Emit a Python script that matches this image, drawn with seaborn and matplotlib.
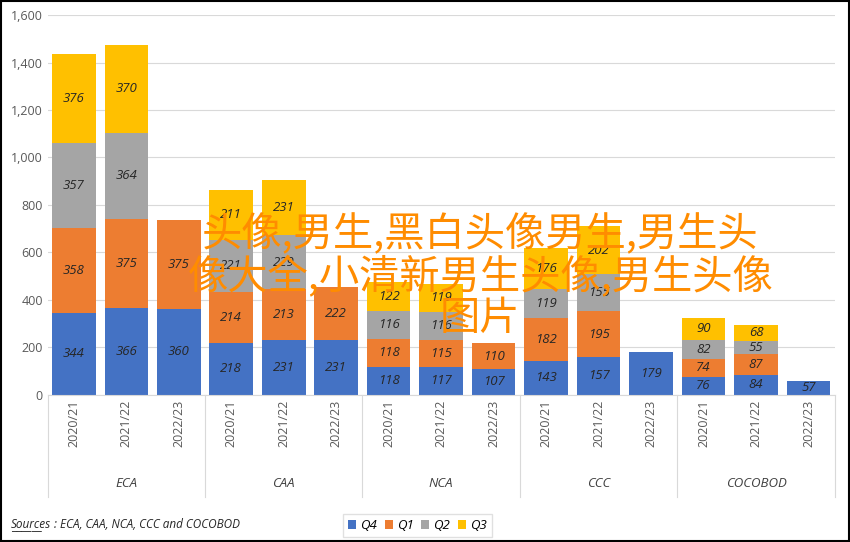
import matplotlib
matplotlib.use("Agg")
import matplotlib.pyplot as plt
import numpy as np
import pandas as pd
import seaborn as sns

groups = ["ECA", "CAA", "NCA", "CCC", "COCOBOD"]
years = ["2020/21", "2021/22", "2022/23"]
q4 = [344, 366, 360, 218, 231, 231, 118, 117, 107, 143, 157, 179, 76, 84, 57]
q1 = [358, 375, 375, 214, 213, 222, 118, 115, 110, 182, 195, 0, 74, 87, 0]
q2 = [357, 364, 0, 221, 229, 0, 116, 116, 0, 119, 155, 0, 82, 55, 0]
q3 = [376, 370, 0, 211, 231, 0, 122, 119, 0, 176, 202, 0, 90, 68, 0]

series = {"Q4": q4, "Q1": q1, "Q2": q2, "Q3": q3}
colors = {"Q4": "#4472C4", "Q1": "#ED7D31", "Q2": "#A5A5A5", "Q3": "#FFC000"}

cats = [f"{g}|{y}" for g in groups for y in years]

plt.rcParams["font.family"] = ["Open Sans", "Noto Sans CJK SC"]
fig = plt.figure(figsize=(8.5, 5.42), dpi=100)
ax = fig.add_axes([0.056, 0.272, 0.926, 0.700])

bottom = np.zeros(len(cats))
for name, vals in series.items():
    df = pd.DataFrame({"cat": cats, "val": vals})
    sns.barplot(data=df, x="cat", y="val", order=cats, color=colors[name],
                bottom=bottom, width=0.83, ax=ax, label=name, saturation=1)
    for i, v in enumerate(vals):
        if v > 0:
            ax.text(i, bottom[i] + v / 2, str(v), ha="center", va="center",
                    fontsize=9.5, style="italic", color="#262626")
    bottom += np.array(vals)

ax.set_ylim(0, 1600)
ax.set_yticks(range(0, 1601, 200))
ax.set_yticklabels([f"{v:,}" for v in range(0, 1601, 200)], fontsize=9, color="#595959")
ax.yaxis.grid(True, color="#D9D9D9", linewidth=0.8)
ax.set_axisbelow(True)
ax.set_xlim(-0.5, len(cats) - 0.5)
for s in ["top", "right", "left"]:
    ax.spines[s].set_visible(False)
ax.spines["bottom"].set_color("#D9D9D9")
ax.tick_params(axis="y", length=0)
ax.tick_params(axis="x", length=0)
ax.set_xticks(range(len(cats)))
ax.set_xticklabels([c.split("|")[1] for c in cats], rotation=90, fontsize=9, color="#595959")
ax.set_xlabel("")
ax.set_ylabel("")

# group labels and separators
for gi, g in enumerate(groups):
    ax.text(gi * 3 + 1, -0.235, g, transform=ax.get_xaxis_transform(), ha="center",
            va="center", fontsize=9.5, style="italic", color="#404040")
for b in range(len(groups) + 1):
    ax.plot([b * 3 - 0.5] * 2, [0, -0.27], transform=ax.get_xaxis_transform(),
            color="#D9D9D9", linewidth=0.8, clip_on=False)

leg = ax.legend(loc="center", bbox_to_anchor=(0.47, -0.345), ncol=4, frameon=True,
                fontsize=9.5, handlelength=0.6, handleheight=0.6, columnspacing=0.6,
                handletextpad=0.3, fancybox=False, edgecolor="#D9D9D9")
for t in leg.get_texts():
    t.set_style("italic")

fig.text(0.013, 0.025, "Sources", fontsize=8.5, style="italic", color="#262626")
fig.text(0.013, 0.022, "______", fontsize=8.5, color="#262626")
fig.text(0.063, 0.025, ": ECA, CAA, NCA, CCC and COCOBOD", fontsize=8.5, style="italic",
         color="#262626")

# overlay title text
fig.text(0.565, 0.49, "头像,男生,黑白头像男生,男生头\n像大全,小清新男生头像,男生头像\n图片",
         ha="center", va="center", fontsize=29, color="#FF8C00", linespacing=1.0,
         fontfamily="Noto Sans CJK SC")

fig.patches.append(plt.Rectangle((0.001, 0.001), 0.998, 0.998, transform=fig.transFigure,
                                 fill=False, edgecolor="black", linewidth=1.5))
fig.savefig("out.png", dpi=100)
